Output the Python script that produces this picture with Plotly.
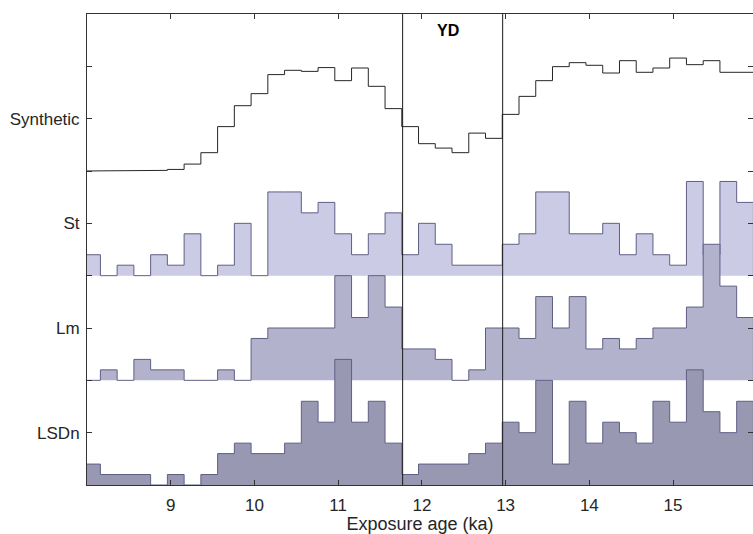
import plotly.graph_objects as go

# ---- data ----
BIN_START = 7.96      # first bin edge (ka)
BIN_WIDTH = 0.2       # bin width (ka)
YD_BOUNDS = [11.77, 12.965]

synthetic = [0, 0, 0, 0, 0.006, 0.015, 0.066, 0.175, 0.424, 0.624,
             0.739, 0.921, 0.962, 0.952, 0.988, 0.863, 0.984, 0.809, 0.596,
             0.424, 0.261, 0.219, 0.175, 0.362, 0.312,
             0.541, 0.713, 0.863, 0.997, 1.035, 1.01, 0.936, 1.054, 0.943,
             0.984, 1.079, 1.016, 1.054, 0.943, 0.943]

st_counts = [2, 0, 1, 0, 2, 1, 4, 0, 1, 5, 0, 8, 8, 6, 7, 4, 2, 4, 6,
             2, 5, 3, 1, 1, 1,
             3, 4, 8, 8, 4, 4, 5, 2, 4, 2, 1, 9, 2, 9, 7]

lm_counts = [0, 1, 0, 2, 1, 1, 0, 0, 1, 0, 4, 5, 5, 5, 5, 10, 6, 10, 7,
             3, 3, 2, 0, 1, 5,
             5, 4, 8, 5, 8, 3, 4, 3, 4, 5, 5, 7, 13, 9, 6]

lsdn_counts = [2, 1, 1, 1, 0, 1, 0, 1, 3, 4, 3, 3, 4, 8, 6, 12, 6, 8, 4,
               1, 2, 2, 2, 3, 4,
               6, 5, 10, 2, 8, 4, 6, 5, 4, 8, 6, 11, 7, 5, 8]

panel_base = {"LSDn": 0, "Lm": 1, "St": 2, "Synthetic": 3}
COUNT_SCALE = 0.1

fill_colors = {"St": "#cbcbe6", "Lm": "#b2b2cc", "LSDn": "#9898b3"}
edge_color = "#5f5f86"

edges = [BIN_START + BIN_WIDTH * k for k in range(len(synthetic) + 1)]


def stairs(values, base):
    xs, ys = [edges[0]], [base]
    for i, v in enumerate(values):
        xs += [edges[i], edges[i + 1]]
        ys += [base + v, base + v]
    xs.append(edges[-1])
    ys.append(base)
    return xs, ys


fig = go.Figure()

# synthetic line
sx, sy = stairs(synthetic, panel_base["Synthetic"])
fig.add_trace(go.Scatter(x=sx[1:-1], y=sy[1:-1], mode="lines",
                         line=dict(color="#262626", width=1),
                         hoverinfo="skip", showlegend=False))

for name, counts in [("St", st_counts), ("Lm", lm_counts), ("LSDn", lsdn_counts)]:
    vals = [c * COUNT_SCALE for c in counts]
    x, y = stairs(vals, panel_base[name])
    fig.add_trace(go.Scatter(x=x, y=y, mode="lines", fill="toself",
                             fillcolor=fill_colors[name],
                             line=dict(color=edge_color, width=1),
                             hoverinfo="skip", showlegend=False))

for xb in YD_BOUNDS:
    fig.add_shape(type="line", x0=xb, x1=xb, y0=0, y1=1, xref="x", yref="paper",
                  line=dict(color="#1a1a1a", width=1), layer="above")

fig.add_annotation(x=(YD_BOUNDS[0] + YD_BOUNDS[1]) / 2 - 0.06, y=4.34, text="<b>YD</b>",
                   showarrow=False, font=dict(size=16, color="#000000"))

ytickvals = [0, 0.5, 1, 1.5, 2, 2.5, 3, 3.5, 4]
yticktext = ["", "LSDn", "", "Lm", "", "St", "", "Synthetic", ""]
xtickvals = [9, 10, 11, 12, 13, 14, 15]

fig.update_layout(
    width=753, height=534,
    margin=dict(l=87, r=0, t=14, b=49),
    plot_bgcolor="white", paper_bgcolor="white",
    font=dict(family="Liberation Sans, Arial, Helvetica, sans-serif", size=17, color="#262626"),
    xaxis=dict(range=[8.0, 15.955], tickvals=xtickvals, ticks="inside", ticklen=5,
               tickcolor="#333333", showline=True, linecolor="#333333", linewidth=1,
               mirror="ticks", showgrid=False, zeroline=False, ticklabelstandoff=5,
               title=dict(text="Exposure age (ka)", font=dict(size=18), standoff=7)),
    yaxis=dict(range=[0, 4.5], tickvals=ytickvals, ticktext=yticktext, ticks="inside",
               ticklen=5, tickcolor="#333333", showline=True, linecolor="#333333",
               linewidth=1, mirror="ticks", showgrid=False, zeroline=False,
               ticklabelstandoff=3),
)

# remove the page's default body margin so the figure fills the window exactly
fig.write_html("out.html",
               config={"displayModeBar": False, "staticPlot": True},
               post_script="document.body.style.margin='0';document.body.style.overflow='hidden';")
